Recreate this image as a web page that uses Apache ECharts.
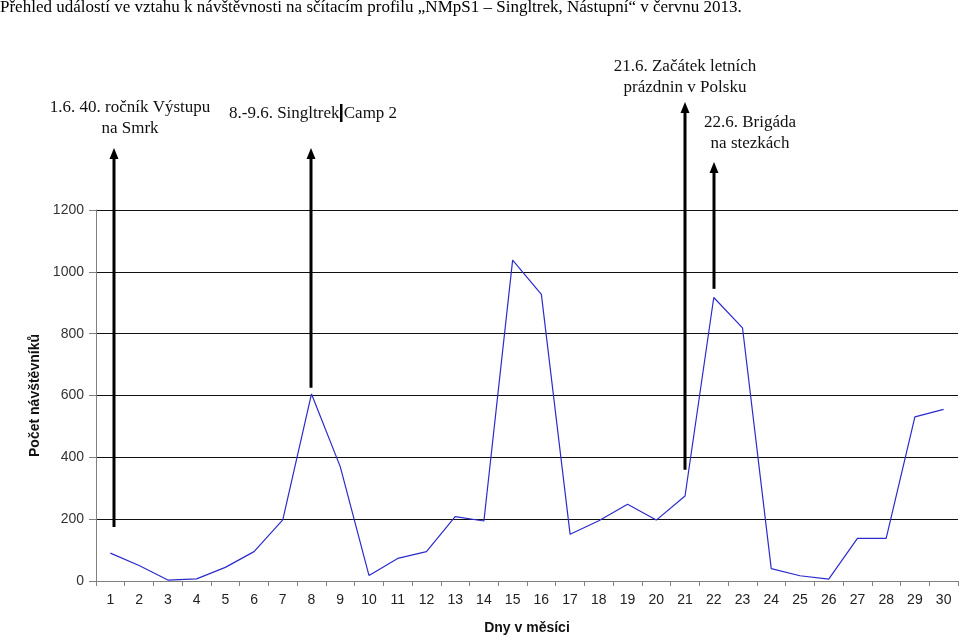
<!DOCTYPE html>
<html>
<head>
<meta charset="utf-8">
<script src="https://cdn.jsdelivr.net/npm/echarts@6/dist/echarts.min.js"></script>
<style>html,body{margin:0;padding:0;background:#fff}#c{width:959px;height:642px}</style>
</head>
<body>
<div id="c"></div>
<script>
const days = ['1','2','3','4','5','6','7','8','9','10','11','12','13','14','15','16','17','18','19','20','21','22','23','24','25','26','27','28','29','30'];
const visitors = [90,50,3,7,44,95,198,605,370,18,73,95,208,194,1038,927,151,195,248,197,275,917,819,40,17,6,138,138,531,555];
const yTicks = [0,200,400,600,800,1000,1200];
const titleText = 'Přehled událostí ve vztahu k návštěvnosti na sčítacím profilu „NMpS1 – Singltrek, Nástupní“ v červnu 2013.';
// annotation arrows: category index, value at arrow foot, pixel top of arrowhead
const arrowDay = [0, 7, 20, 21];
const arrowFoot = [175, 625, 360, 945];
const arrowTop = [148, 148, 102, 162];
const arrowShift = [4, -1, 0, 0];

const chart = echarts.init(document.getElementById('c'));
const serif = '"Liberation Serif","Times New Roman",serif';
const sans = '"Liberation Sans",Arial,sans-serif';

chart.setOption({
  animation: false,
  backgroundColor: '#fff',
  grid: {left: 96, right: 1, top: 210, bottom: 61, containLabel: false},
  xAxis: {
    type: 'category',
    data: days,
    boundaryGap: true,
    name: 'Dny v měsíci',
    nameLocation: 'middle',
    nameGap: 40,
    nameTextStyle: {fontFamily: sans, fontWeight: 'bold', fontSize: 14, color: '#111'},
    axisLine: {lineStyle: {color: '#808080', width: 1}},
    axisTick: {show: true, length: 5, lineStyle: {color: '#808080'}},
    axisLabel: {fontFamily: sans, fontSize: 14, color: '#222', margin: 12, interval: 0},
    splitLine: {show: false}
  },
  yAxis: {
    type: 'value',
    min: 0, max: 1200, interval: 200,
    name: 'Počet návštěvníků',
    nameLocation: 'middle',
    nameGap: 54,
    nameRotate: 90,
    nameTextStyle: {fontFamily: sans, fontWeight: 'bold', fontSize: 14, color: '#111'},
    axisLine: {show: true, lineStyle: {color: '#808080', width: 1}},
    axisTick: {show: true, length: 7, lineStyle: {color: '#808080'}},
    axisLabel: {fontFamily: sans, fontSize: 14, color: '#333', margin: 12,
      formatter: v => yTicks.includes(v) ? String(v) : ''},
    splitLine: {show: true, lineStyle: {color: '#111', width: 1}}
  },
  series: [{
    type: 'line',
    data: visitors,
    symbol: 'none',
    lineStyle: {color: '#2b2bcc', width: 1.2},
    z: 3
  }]
});

function arrow(x, yTop, yBot) {
  return [
    {type: 'line', shape: {x1: x, y1: yTop + 8, x2: x, y2: yBot}, style: {stroke: '#000', lineWidth: 3}, z: 10},
    {type: 'polygon', shape: {points: [[x, yTop], [x - 4.5, yTop + 11], [x + 4.5, yTop + 11]]}, style: {fill: '#000'}, z: 10}
  ];
}
let g = [];
for (let i = 0; i < arrowDay.length; i++) {
  const p = chart.convertToPixel({gridIndex: 0}, [arrowDay[i], arrowFoot[i]]);
  g = g.concat(arrow(Math.round(p[0]) + arrowShift[i], arrowTop[i], p[1]));
}
const txt = (x, y, text, align) => ({type: 'text', x: x, y: y, z: 11,
  style: {text: text, fontFamily: serif, fontSize: 17, fill: '#111', align: align || 'center', verticalAlign: 'middle', lineHeight: 21}});
g.push({type: 'text', x: 0, y: -0.5, z: 11, style: {text: titleText, fontFamily: serif, fontSize: 17, fill: '#000', align: 'left', verticalAlign: 'top'}});
g.push(txt(130, 118, '1.6. 40. ročník Výstupu\nna Smrk'));
g.push(txt(229, 114, '8.-9.6. Singltrek Camp 2', 'left'));
g.push({type: 'rect', shape: {x: 340, y: 104, width: 2.5, height: 18}, style: {fill: '#000'}, z: 12});
g.push(txt(685, 77, '21.6. Začátek letních\nprázdnin v Polsku'));
g.push(txt(750, 133, '22.6. Brigáda\nna stezkách'));
chart.setOption({graphic: g});
</script>
</body>
</html>
